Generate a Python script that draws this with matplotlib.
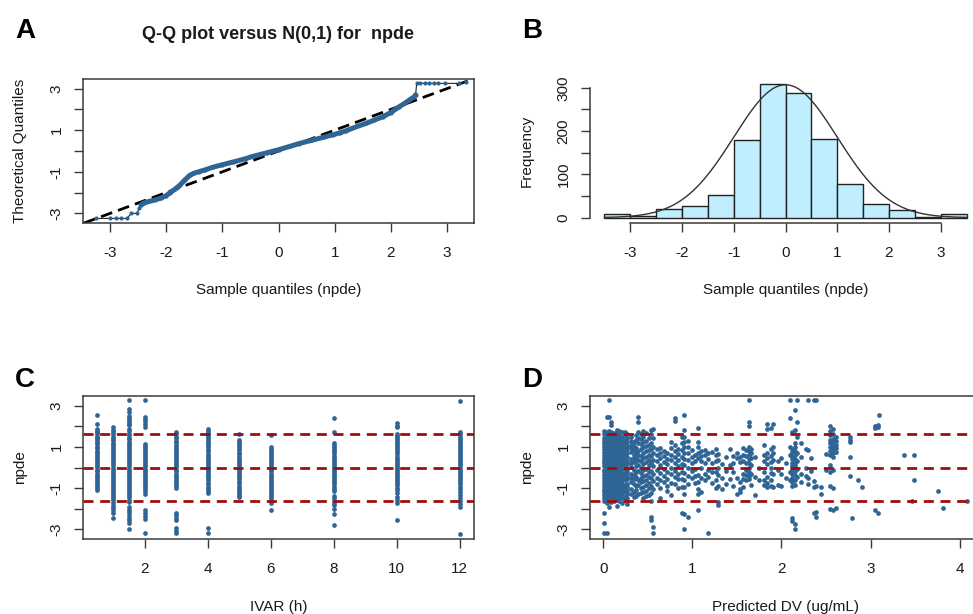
import numpy as np
import matplotlib
matplotlib.use("Agg")
import matplotlib.pyplot as plt

plt.rcParams['font.family'] = ['Liberation Sans', 'DejaVu Sans']
plt.rcParams['axes.unicode_minus'] = False
plt.rcParams['lines.scale_dashes'] = False

# ---------------- data ----------------
# Panel A: Q-Q plot (sample quantiles vs theoretical quantiles)
qq_sample = [-3.25, -3.0, -2.9, -2.8, -2.7, -2.62, -2.52, -2.48,
             -2.45, -2.4, -2.3, -2.2, -2.1, -2.0, -1.94, -1.85, -1.76, -1.67,
             -1.58, -1.5, -1.41, -1.3, -1.17, -1.0, -0.81, -0.6, -0.46, -0.2,
             0.0, 0.2, 0.37, 0.6, 0.8, 0.97, 1.1, 1.2, 1.4, 1.56, 1.7, 1.86,
             2.0, 2.15, 2.25, 2.33, 2.42, 2.44,
             2.46, 2.52, 2.6, 2.68, 2.76, 2.84, 2.96, 3.22, 3.34]
qq_theor = [-3.24, -3.24, -3.24, -3.24, -3.24, -3.0, -3.0, -2.75,
            -2.6, -2.5, -2.42, -2.35, -2.27, -2.15, -2.02, -1.85, -1.65, -1.4,
            -1.17, -1.06, -0.99, -0.9, -0.78, -0.66, -0.53, -0.38, -0.26, -0.08,
            0.06, 0.22, 0.36, 0.52, 0.66, 0.78, 0.88, 0.97, 1.18, 1.33, 1.48, 1.65,
            1.85, 2.13, 2.3, 2.45, 2.61, 2.7,
            3.25, 3.25, 3.25, 3.25, 3.25, 3.25, 3.25, 3.25, 3.3]

# Panel B: histogram of npde
hist_edges = [-3.5, -3.0, -2.5, -2.0, -1.5, -1.0, -0.5, 0.0, 0.5, 1.0, 1.5, 2.0, 2.5, 3.0, 3.5]
hist_counts = [8, 5, 21, 26, 53, 179, 308, 289, 182, 78, 32, 17, 2, 8]
curve_peak = 307  # height of the overlaid N(0,1) curve

# Panel C: npde vs time (IVAR)
ivar_times = [0.5, 1, 1.5, 2, 3, 4, 5, 6, 8, 10, 12]
c_y_05 = [2.53, 2.12, 1.88, 1.79, 1.7, 1.61, 1.5, 1.42, 1.31, 1.22, 1.12, 1.01, 0.92, 0.8, 0.71, 0.6,
          0.52, 0.4, 0.31, 0.2, 0.1, 0.01, -0.1, -0.19, -0.3, -0.41, -0.5, -0.61, -0.7, -0.8, -0.91, -1.0, -1.07]
c_y_1 = [1.97, 1.8, 1.71, 1.6, 1.5, 1.4, 1.31, 1.2, 1.1, 0.99, 0.9, 0.8, 0.69, 0.6, 0.5, 0.4, 0.3, 0.2,
         0.1, 0.0, -0.1, -0.21, -0.3, -0.4, -0.5, -0.6, -0.7, -0.8, -0.9, -1.0, -1.1, -1.2, -1.3, -1.4,
         -1.5, -1.58, -1.72, -1.85, -1.95, -2.05, -2.18, -2.45]
c_y_15 = [3.25, 2.85, 2.68, 2.5, 2.41, 2.32, 2.22, 2.12, 2.04, 1.88, 1.78, 1.64, 1.55, 1.45, 1.36, 1.25,
          1.15, 1.06, 0.95, 0.85, 0.76, 0.65, 0.55, 0.45, 0.35, 0.25, 0.15, 0.05, -0.05, -0.15, -0.25,
          -0.35, -0.45, -0.55, -0.65, -0.75, -0.85, -0.95, -1.05, -1.15, -1.25, -1.35, -1.45, -1.55,
          -1.66, -1.92, -2.05, -2.15, -2.3, -2.45, -2.55, -2.7, -2.99]
c_y_2 = [3.25, 2.44, 2.35, 2.25, 2.1, 1.98, 1.15, 1.06, 0.95, 0.85, 0.75, 0.65, 0.55, 0.45, 0.35, 0.25,
         0.15, 0.05, -0.05, -0.15, -0.25, -0.35, -0.45, -0.55, -0.65, -0.75, -0.85, -0.95, -1.05, -1.15,
         -1.26, -2.06, -2.2, -2.35, -2.5, -3.18]
c_y_3 = [1.7, 1.61, 1.5, 1.41, 1.3, 1.21, 1.1, 1.01, 0.9, 0.81, 0.7, 0.61, 0.5, 0.41, 0.3, 0.21, 0.1,
         0.01, -0.1, -0.19, -0.3, -0.39, -0.5, -0.59, -0.7, -0.79, -0.9, -1.0, -2.2, -2.32, -2.45, -2.55,
         -2.93, -3.05, -3.18]
c_y_4 = [1.88, 1.78, 1.67, 1.58, 1.47, 1.38, 1.27, 1.18, 1.07, 0.98, 0.87, 0.78, 0.67, 0.58, 0.47, 0.38,
         0.27, 0.18, 0.07, -0.02, -0.13, -0.22, -0.33, -0.42, -0.53, -0.62, -0.73, -0.82, -0.93, -1.02,
         -1.13, -1.24, -2.95, -3.18]
c_y_5 = [1.64, 1.33, 1.23, 1.12, 1.03, 0.92, 0.83, 0.72, 0.63, 0.52, 0.43, 0.32, 0.23, 0.12, 0.03, -0.08,
         -0.17, -0.28, -0.37, -0.48, -0.57, -0.68, -0.77, -0.88, -0.97, -1.08, -1.17, -1.28, -1.37, -1.45]
c_y_6 = [1.56, 1.0, 0.9, 0.81, 0.7, 0.61, 0.5, 0.41, 0.3, 0.21, 0.1, 0.01, -0.1, -0.19, -0.3, -0.39, -0.5,
         -0.59, -0.7, -0.79, -0.9, -0.99, -1.1, -1.19, -1.3, -1.39, -1.5, -1.6, -1.72, -2.08]
c_y_8 = [2.4, 1.7, 1.18, 1.08, 0.98, 0.88, 0.78, 0.68, 0.58, 0.48, 0.38, 0.28, 0.18, 0.08, -0.02, -0.12,
         -0.22, -0.32, -0.42, -0.52, -0.62, -0.72, -0.82, -0.92, -1.02, -1.12, -1.4, -1.5, -1.6, -1.7,
         -1.81, -2.0, -2.24, -2.77]
c_y_10 = [2.14, 2.03, 1.95, 1.63, 1.53, 1.43, 1.33, 1.23, 1.13, 1.03, 0.93, 0.83, 0.73, 0.63, 0.53, 0.43,
          0.33, 0.23, 0.13, 0.03, -0.07, -0.17, -0.27, -0.37, -0.47, -0.57, -0.67, -0.77, -0.87, -0.97,
          -1.1, -1.25, -1.44, -1.55, -1.73, -2.53]
c_y_12 = [3.23, 1.71, 1.6, 1.5, 1.4, 1.3, 1.2, 1.1, 1.0, 0.9, 0.8, 0.7, 0.6, 0.5, 0.4, 0.3, 0.2, 0.1, 0.0,
          -0.1, -0.2, -0.3, -0.4, -0.5, -0.6, -0.7, -0.8, -0.93, -1.05, -1.2, -1.35, -1.5, -1.6, -1.75,
          -1.89, -3.22]
npde_by_time = [c_y_05, c_y_1, c_y_15, c_y_2, c_y_3, c_y_4, c_y_5, c_y_6, c_y_8, c_y_10, c_y_12]

# Panel D: npde vs predicted DV (grouped by predicted value)
pred_dv_levels = [0.01, 0.04, 0.06, 0.09, 0.12, 0.15, 0.18, 0.21, 0.24, 0.27,
                  0.31, 0.34, 0.37, 0.39, 0.42, 0.45, 0.48, 0.51, 0.54, 0.56,
                  0.6, 0.64, 0.68, 0.72, 0.76, 0.8, 0.84, 0.88, 0.91, 0.95, 0.99,
                  1.03, 1.06, 1.1, 1.14, 1.18, 1.22, 1.26, 1.29, 1.33, 1.38, 1.42, 1.46,
                  1.5, 1.53, 1.57, 1.6, 1.63, 1.66, 1.7, 1.75, 1.8, 1.84, 1.88, 1.91,
                  1.96, 2.0, 2.05, 2.09, 2.12, 2.15, 2.17, 2.22, 2.27, 2.3, 2.33, 2.36,
                  2.39, 2.44, 2.5, 2.55, 2.58, 2.61, 2.77, 2.79, 2.86, 2.9, 3.05, 3.08,
                  3.1, 3.37, 3.46, 3.49, 3.76, 3.81, 4.08]
npde_by_pred = [
    [1.75, 1.6, 1.45, 1.3, 1.18, 1.02, 0.9, 0.75, 0.6, 0.47, 0.32, 0.2, 0.05, -0.1, -0.22, -0.38, -0.5,
     -0.65, -0.8, -0.92, -1.08, -1.2, -1.35, -1.5, -1.62, -2.2, -2.68, -3.17],
    [2.46, 1.7, 1.55, 1.4, 1.27, 1.12, 0.98, 0.83, 0.7, 0.55, 0.4, 0.27, 0.12, -0.02, -0.17, -0.3, -0.45,
     -0.58, -0.73, -0.87, -1.0, -1.15, -1.28, -1.43, -1.57, -1.72, -3.17],
    [3.26, 2.46, 1.78, 1.62, 1.48, 1.35, 1.2, 1.05, 0.92, 0.78, 0.63, 0.5, 0.35, 0.22, 0.07, -0.08, -0.23,
     -0.36, -0.5, -0.66, -0.78, -0.93, -1.07, -1.22, -1.36, -1.5, -1.9],
    [2.2, 2.05, 1.72, 1.58, 1.42, 1.3, 1.15, 1.0, 0.86, 0.72, 0.58, 0.43, 0.3, 0.15, 0.02, -0.13, -0.27,
     -0.42, -0.55, -0.7, -0.85, -0.98, -1.12, -1.27, -1.4, -1.55, -1.68],
    [1.68, 1.52, 1.38, 1.24, 1.1, 0.95, 0.8, 0.67, 0.52, 0.38, 0.25, 0.1, -0.05, -0.18, -0.33, -0.47, -0.6,
     -0.75, -0.9, -1.03, -1.17, -1.32, -1.46, -1.6],
    [1.8, 1.62, 1.47, 1.33, 1.18, 1.05, 0.9, 0.76, 0.62, 0.48, 0.33, 0.2, 0.05, -0.08, -0.22, -0.37, -0.52,
     -0.65, -0.8, -0.95, -1.08, -1.22, -1.37, -1.52, -1.85],
    [1.75, 1.58, 1.43, 1.28, 1.12, 0.98, 0.85, 0.7, 0.56, 0.42, 0.28, 0.13, 0.0, -0.15, -0.3, -0.44, -0.58,
     -0.72, -0.86, -1.0, -1.14, -1.3, -1.45, -1.6],
    [1.7, 1.5, 1.3, 1.15, 0.95, 0.8, 0.62, 0.45, 0.3, 0.1, -0.05, -0.25, -0.4, -0.6, -0.78, -0.95, -1.15,
     -1.32, -1.5, -1.7],
    [1.72, 1.55, 1.35, 1.2, 1.0, 0.82, 0.65, 0.48, 0.28, 0.12, -0.08, -0.28, -0.45, -0.62, -0.85, -1.02,
     -1.2, -1.42, -1.58],
    [1.6, 1.45, 1.25, 1.05, 0.88, 0.7, 0.5, 0.3, 0.15, -0.05, -0.2, -0.4, -0.58, -0.78, -0.95, -1.12, -1.3,
     -1.5, -1.78],
    [1.5, 1.3, 1.1, 0.92, 0.75, 0.4, 0.2, 0.02, -0.3, -0.5, -0.7, -1.05, -1.3],
    [1.25, 1.05, 0.85, 0.6, 0.45, 0.25, -0.1, -0.35, -0.55, -0.8, -1.2, -1.45],
    [1.55, 1.35, 0.95, 0.7, 0.5, 0.3, 0.05, -0.2, -0.45, -0.9, -1.1, -1.4],
    [2.46, 2.2, 1.7, 1.45, 1.2, 0.8, 0.6, 0.35, 0.1, -0.15, -0.6, -0.85, -1.3],
    [1.6, 1.4, 1.15, 0.9, 0.55, 0.3, 0.0, -0.25, -0.5, -0.7, -1.0, -1.25],
    [1.75, 1.5, 1.25, 1.0, 0.72, 0.45, 0.15, -0.1, -0.4, -0.65, -0.95, -1.2, -1.5],
    [1.65, 1.3, 1.05, 0.8, 0.5, 0.25, -0.05, -0.35, -0.6, -0.85, -1.15, -1.4],
    [1.45, 1.1, 0.85, 0.6, 0.38, 0.12, -0.2, -0.45, -0.75, -1.0, -1.35],
    [1.8, 1.6, 1.2, 0.9, 0.55, 0.2, -0.15, -0.5, -0.9, -1.25, -1.6, -2.4, -2.55],
    [1.85, 1.45, 1.0, 0.7, 0.35, 0.05, -0.3, -0.65, -1.05, -2.9, -3.17],
    [0.9, 0.6, 0.3, -0.1, -0.5, -0.8],
    [0.95, 0.7, 0.45, 0.1, -0.25, -0.6, -1.0, -1.5],
    [0.8, 0.55, 0.25, -0.05, -0.4, -0.7],
    [0.7, 0.4, 0.15, -0.2, -0.55, -0.9, -1.15],
    [1.25, 0.95, 0.6, 0.35, 0.0, -0.3, -0.75, -1.35],
    [2.4, 2.25, 1.1, 0.8, 0.5, 0.2, -0.15, -0.45, -0.8],
    [0.9, 0.65, 0.35, 0.05, -0.3, -0.55, -1.0],
    [1.5, 1.2, 0.85, 0.5, 0.15, -0.2, -0.55, -0.95, -2.2],
    [2.54, 1.8, 1.5, 1.25, 1.0, 0.7, 0.4, 0.1, -0.25, -0.6, -0.95, -1.3, -2.25, -2.98],
    [1.3, 1.0, 0.7, 0.35, 0.0, -0.4, -0.8, -2.4],
    [0.85, 0.5, 0.2, -0.15, -0.5],
    [0.6, 0.3, -0.05, -0.4, -0.75],
    [1.9, 1.25, 1.0, 0.7, 0.45, -0.35, -0.7, -1.05, -1.3, -2.04],
    [0.8, 0.55, 0.3, 0.0, -0.5, -1.2],
    [0.85, 0.6, 0.2, -0.3, -0.6],
    [0.7, 0.4, -0.1, -0.45, -3.17],
    [0.75, 0.2, -0.2, -0.75],
    [0.9, 0.6, 0.3, -0.2, -0.6, -1.0],
    [0.65, 0.35, 0.0, -0.35, -0.9, -1.65, -1.8],
    [0.15, -0.5, -1.05],
    [0.5, -0.15, -0.8],
    [0.9, 0.1, -0.55],
    [0.55, 0.2, -0.2, -0.9],
    [0.7, 0.45, -0.5, -1.3],
    [0.5, 0.25, -0.7, -1.05, -1.2],
    [0.95, 0.6, 0.3, -0.3, -0.55, -0.95],
    [0.85, 0.55, 0.2, -0.1, -0.35, -0.6],
    [3.26, 2.2, 2.0, 1.0, 0.8, 0.6, 0.4, 0.2, 0.0, -0.2, -0.4, -0.55],
    [0.9, 0.7, 0.45, 0.1, -0.3, -0.85],
    [0.5, -0.45, -1.35],
    [0.0, -0.6],
    [1.1, 0.6, 0.3, -0.2, -0.6, -0.85],
    [2.1, 1.85, 0.7, 0.45, 0.15, -0.45, -0.75, -0.95],
    [1.9, 0.9, 0.55, 0.25, 0.0, -0.25, -0.6, -0.9],
    [2.12, 1.0, 0.7, 0.35, -0.3, -0.95],
    [0.3, -0.1, -0.85],
    [0.45, -0.3, -0.9],
    [0.2, -0.5],
    [3.26, 2.38, 1.0, 0.6, -0.2, -0.6],
    [1.7, 0.9, 0.75, 0.55, 0.4, 0.2, 0.05, -0.1, -0.3, -0.5, -0.7, -0.9, -2.45, -2.6],
    [2.78, 1.8, 1.2, 1.0, 0.8, 0.6, 0.4, 0.25, 0.1, -0.15, -0.35, -0.6, -0.85, -2.75, -3.0],
    [3.26, 2.2, 1.5, 0.7, 0.3, -0.05, -0.45],
    [1.2, 0.5, -0.3, -0.7],
    [0.9, 0.0, -0.4],
    [3.26, 0.85, -0.5, -0.8],
    [0.45, -0.15],
    [3.26, -0.65, -0.95, -2.2],
    [3.26, -0.9, -2.4, -2.15],
    [-0.95, -1.3],
    [0.65, -0.1],
    [2.0, 1.75, 1.55, 1.35, 1.2, 1.0, 0.8, 0.6, 0.1, -0.2, -0.9, -2.0],
    [1.85, 1.6, 1.4, 1.25, 1.05, 0.9, 0.7, 0.5, -0.1, -1.0, -2.05],
    [1.5, 1.3, 1.1, 0.95, 0.75, -1.95],
    [1.5, 1.35, 1.25, 0.5, -0.43],
    [-2.45],
    [-0.6],
    [-0.92],
    [2.0, 1.9, -2.05],
    [2.07, 1.95, -2.2],
    [2.54],
    [0.61],
    [-1.64],
    [0.61, -0.6],
    [-1.16],
    [-1.96],
    [-1.6],
]
ref_lines = [-1.645, 0.0, 1.645]

# ---------------- styles ----------------
PT_COL = '#2f6594'
TXT = '#1a1a1a'
SPINE = '#3a3a3a'
RED = '#a00d0d'
FS = 11

W, H = 973.0, 614.0
def pos(l, t, r, b):
    return [l / W, 1 - b / H, (r - l) / W, (b - t) / H]

fig = plt.figure(figsize=(9.73, 6.14), dpi=100)
fig.patch.set_facecolor('white')

def style_axes(ax, boxed=True):
    for s in ax.spines.values():
        s.set_color(SPINE)
        s.set_linewidth(1.1)
    ax.tick_params(axis='both', direction='out', length=6.5, width=1.0, color=SPINE,
                   labelsize=FS, labelcolor=TXT)
    ax.tick_params(axis='x', pad=10)
    ax.tick_params(axis='y', pad=7.5, labelrotation=90)
    for lab in ax.get_yticklabels():
        lab.set_va('center')

def npde_yaxis(ax):
    ax.set_ylim(-3.46, 3.46)
    ax.set_yticks([-3, -2, -1, 0, 1, 2, 3])
    ax.set_yticklabels(['-3', '', '-1', '', '1', '', '3'])

def labels(ax, xl, yl, xly):
    ax.set_xlabel(xl, fontsize=FS, color=TXT)
    ax.xaxis.label.set_va('center')
    ax.xaxis.set_label_coords(0.5, xly)
    ax.set_ylabel(yl, fontsize=FS, color=TXT)
    ax.yaxis.label.set_va('center')
    ax.yaxis.set_label_coords(-0.162, 0.5)

# ---- Panel A ----
axA = fig.add_axes(pos(83, 79, 474, 223))
axA.set_xlim(-3.48, 3.48)
axA.set_ylim(-3.46, 3.46)
axA.axline((0, 0), slope=1, color='black', lw=2.0, dashes=(8.5, 4.5), zorder=2)
axA.plot(qq_sample, qq_theor, color='#222222', lw=0.8, zorder=3)
axA.plot(qq_sample[8:46], qq_theor[8:46], color=PT_COL, lw=3.6, solid_capstyle='round', zorder=4)
axA.plot(qq_sample, qq_theor, 'o', color=PT_COL, ms=3.0, mew=0, zorder=5)
axA.set_xticks([-3, -2, -1, 0, 1, 2, 3])
npde_yaxis(axA)
style_axes(axA)
labels(axA, 'Sample quantiles (npde)', 'Theoretical Quantiles', -0.465)
axA.set_title('Q-Q plot versus N(0,1) for  npde', fontsize=13, fontweight='bold',
              color=TXT, y=1.25, va='center')

# ---- Panel B ----
axB = fig.add_axes(pos(590, 79, 981, 223))
axB.set_xlim(-3.78, 3.78)
axB.set_ylim(-12.3, 320.3)
edges = np.array(hist_edges)
axB.bar(edges[:-1], hist_counts, width=np.diff(edges), align='edge',
        color='#bfefff', edgecolor='#222222', linewidth=1.0, zorder=2)
xc = np.linspace(-3.5, 3.5, 300)
axB.plot(xc, curve_peak * np.exp(-0.5 * xc ** 2), color='#333333', lw=1.0, zorder=3)
axB.spines['top'].set_visible(False)
axB.spines['right'].set_visible(False)
axB.spines['left'].set_bounds(0, 300)
axB.spines['bottom'].set_bounds(-3, 3)
axB.set_xticks([-3, -2, -1, 0, 1, 2, 3])
axB.set_yticks([0, 50, 100, 150, 200, 250, 300])
axB.set_yticklabels(['0', '', '100', '', '200', '', '300'])
style_axes(axB)
labels(axB, 'Sample quantiles (npde)', 'Frequency', -0.465)

# ---- Panel C ----
axC = fig.add_axes(pos(83, 396, 474, 539))
axC.set_xlim(0.04, 12.46)
npde_yaxis(axC)
for t, ys in zip(ivar_times, npde_by_time):
    axC.plot([t] * len(ys), ys, 'o', color=PT_COL, ms=3.4, mew=0, zorder=3)
for yl in ref_lines:
    axC.axhline(yl, color=RED, lw=2.0, dashes=(7.2, 4.8), zorder=4)
axC.set_xticks([2, 4, 6, 8, 10, 12])
style_axes(axC)
labels(axC, 'IVAR (h)', 'npde', -0.476)

# ---- Panel D ----
axD = fig.add_axes(pos(590, 396, 981, 539))
axD.set_xlim(-0.15, 4.24)
npde_yaxis(axD)
for xv, ys in zip(pred_dv_levels, npde_by_pred):
    axD.plot([xv] * len(ys), ys, 'o', color=PT_COL, ms=3.4, mew=0, zorder=3)
for yl in ref_lines:
    axD.axhline(yl, color=RED, lw=2.0, dashes=(7.2, 4.8), zorder=4)
axD.set_xticks([0, 1, 2, 3, 4])
style_axes(axD)
labels(axD, 'Predicted DV (ug/mL)', 'npde', -0.476)

# ---- panel letters ----
for letter, x, y in [('A', 25, 38), ('B', 532, 38), ('C', 25, 387), ('D', 532, 387)]:
    fig.text(x / W, 1 - y / H, letter, fontsize=20, fontweight='bold', color='black',
             ha='center', va='baseline')

fig.savefig('out.png', dpi=100)
